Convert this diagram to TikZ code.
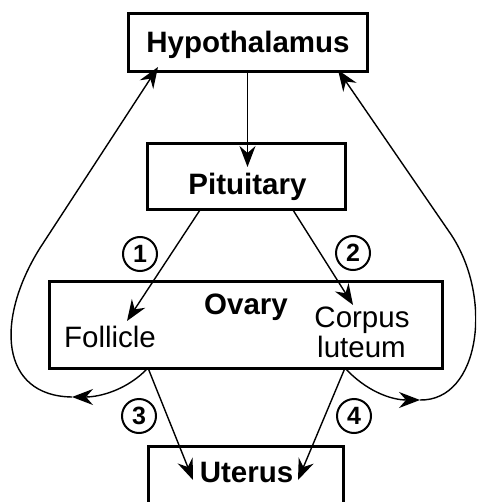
\documentclass[tikz,border=0pt]{standalone}
\usepackage{fontspec}
\setmainfont{Liberation Sans}
\usetikzlibrary{arrows.meta}
\begin{document}
\begin{tikzpicture}[x=1pt,y=-1pt,
  box/.style={draw,line width=3pt,inner sep=0pt},
  lbl/.style={font=\fontsize{29.5}{30}\selectfont\bfseries,anchor=base,inner sep=0pt},
  sub/.style={font=\fontsize{29.5}{30}\selectfont,anchor=base,inner sep=0pt},
  num/.style={draw,circle,line width=2pt,minimum size=34pt,inner sep=0pt,font=\fontsize{25}{25}\selectfont\bfseries},
  conn/.style={line width=1.4pt,-{Stealth[length=21pt,width=16pt,inset=7pt]}}
]
\useasboundingbox (0,0) rectangle (476,502);
\clip (0,0) rectangle (476,502);
% boxes
\node[box,minimum width=239pt,minimum height=58pt] (hyp) at (247.5,43) {};
\node[box,minimum width=198pt,minimum height=66pt] (pit) at (246,177) {};
\node[box,minimum width=393pt,minimum height=87pt] (ova) at (245.5,324.5) {};
\node[box,minimum width=195pt,minimum height=74pt] (ute) at (245.5,483) {};
% texts
\node[lbl] (hypT) at (248,53) {Hypothalamus};
\node[lbl] (pitT) at (247.5,195) {Pituitary};
\node[lbl] (ovaT) at (246,314) {Ovary};
\node[sub] (fol) at (110,347) {Follicle};
\node[sub] (cor1) at (362,327) {Corpus};
\node[sub] (cor2) at (361.5,357) {luteum};
\node[lbl] (uteT) at (246.5,482) {Uterus};
% numbers
\node[num] (n1) at (140,254) {1};
\node[num] (n2) at (353,253) {2};
\node[num] (n3) at (139,416) {3};
\node[num] (n4) at (354,416) {4};
% coordinates
\coordinate (pitIn) at (247.5,167);
\coordinate (pitL) at (200,210);
\coordinate (pitR) at (293,210);
\coordinate (folTip) at (127,321);
\coordinate (corTip) at (353,305);
\coordinate (ovL) at (148,368);
\coordinate (ovR) at (345,368);
\coordinate (uteL) at (193,480);
\coordinate (uteR) at (298,480);
\coordinate (midL) at (72,397);
\coordinate (midR) at (420,400);
\coordinate (hypL) at (158,67);
\coordinate (hypR) at (338,70);
% connectors
\draw[conn] (hyp.south) -- (pitIn);
\draw[conn] (pitL) -- (folTip);
\draw[conn] (pitR) -- (corTip);
\draw[conn] (ovL) -- (uteL);
\draw[conn] (ovR) -- (uteR);
\draw[conn] (ovL) .. controls (127,390) and (100,397) .. (midL);
\draw[conn] (midL) .. controls (0,396) and (-5,320) .. (40,248) -- (hypL);
\draw[conn] (ovR) .. controls (365,390) and (390,400) .. (midR);
\draw[conn] (midR) .. controls (480,401) and (494,297) .. (450,233) -- (hypR);
\end{tikzpicture}
\end{document}
